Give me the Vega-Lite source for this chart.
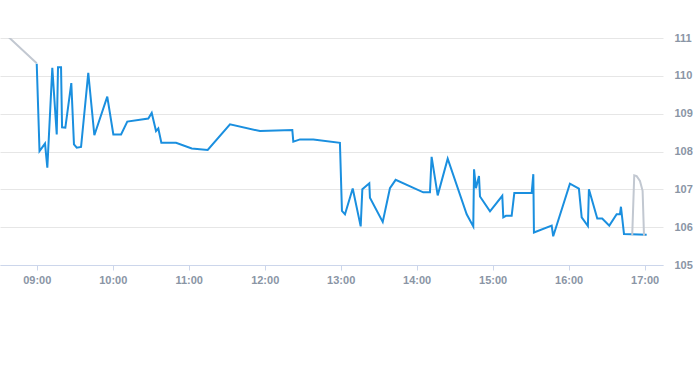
{
  "$schema": "https://vega.github.io/schema/vega-lite/v6.json",
  "autosize": {"type": "none"},
  "width": 663,
  "height": 227,
  "padding": {"top": 38, "left": 0, "right": 30, "bottom": 100},
  "config": {
    "view": {"stroke": null},
    "axis": {"labelFont": "Liberation Sans", "labelFontSize": 11, "labelColor": "#8a95a5", "labelFontWeight": "bold"}
  },
  "encoding": {
    "x": {
      "field": "time", "type": "temporal",
      "scale": {"domain": [
        {"year": 2024, "month": 1, "date": 2, "hours": 8, "minutes": 31},
        {"year": 2024, "month": 1, "date": 2, "hours": 17, "minutes": 14, "seconds": 30}
      ]},
      "axis": {
        "title": null, "format": "%H:%M", "tickCount": "hour",
        "grid": false, "domainColor": "#ccd6eb", "tickColor": "#ccd6eb", "tickSize": 5,
        "labelPadding": 4, "labelFlush": false, "labelOverlap": false
      }
    },
    "y": {
      "field": "price", "type": "quantitative",
      "scale": {"domain": [105, 111], "nice": false, "zero": false},
      "axis": {
        "title": null, "orient": "right", "values": [105, 106, 107, 108, 109, 110, 111],
        "format": "d", "grid": true, "gridColor": "#e6e6e6", "domain": false, "ticks": false,
        "labelPadding": 11, "labelOverlap": false, "labelFlush": false
      }
    }
  },
  "layer": [
    {
      "data": {"values": [
      {"time": "2024-01-02T09:00:00", "price": 110.32},
      {"time": "2024-01-02T09:02:12", "price": 108.01},
      {"time": "2024-01-02T09:06:33", "price": 108.21},
      {"time": "2024-01-02T09:08:22", "price": 107.57},
      {"time": "2024-01-02T09:12:18", "price": 110.21},
      {"time": "2024-01-02T09:15:48", "price": 108.45},
      {"time": "2024-01-02T09:16:48", "price": 110.23},
      {"time": "2024-01-02T09:19:12", "price": 110.23},
      {"time": "2024-01-02T09:20:00", "price": 108.64},
      {"time": "2024-01-02T09:22:36", "price": 108.63},
      {"time": "2024-01-02T09:27:18", "price": 109.81},
      {"time": "2024-01-02T09:29:24", "price": 108.19},
      {"time": "2024-01-02T09:31:36", "price": 108.10},
      {"time": "2024-01-02T09:35:00", "price": 108.12},
      {"time": "2024-01-02T09:40:42", "price": 110.08},
      {"time": "2024-01-02T09:45:30", "price": 108.43},
      {"time": "2024-01-02T09:55:42", "price": 109.45},
      {"time": "2024-01-02T10:00:30", "price": 108.45},
      {"time": "2024-01-02T10:06:36", "price": 108.45},
      {"time": "2024-01-02T10:11:30", "price": 108.79},
      {"time": "2024-01-02T10:28:06", "price": 108.87},
      {"time": "2024-01-02T10:30:48", "price": 109.02},
      {"time": "2024-01-02T10:34:12", "price": 108.54},
      {"time": "2024-01-02T10:36:00", "price": 108.61},
      {"time": "2024-01-02T10:38:24", "price": 108.23},
      {"time": "2024-01-02T10:50:00", "price": 108.23},
      {"time": "2024-01-02T11:02:24", "price": 108.08},
      {"time": "2024-01-02T11:15:00", "price": 108.04},
      {"time": "2024-01-02T11:32:36", "price": 108.72},
      {"time": "2024-01-02T11:56:18", "price": 108.54},
      {"time": "2024-01-02T12:21:48", "price": 108.57},
      {"time": "2024-01-02T12:22:36", "price": 108.26},
      {"time": "2024-01-02T12:27:54", "price": 108.32},
      {"time": "2024-01-02T12:38:24", "price": 108.32},
      {"time": "2024-01-02T12:59:24", "price": 108.23},
      {"time": "2024-01-02T13:01:00", "price": 106.43},
      {"time": "2024-01-02T13:03:24", "price": 106.34},
      {"time": "2024-01-02T13:09:30", "price": 107.02},
      {"time": "2024-01-02T13:15:48", "price": 106.02},
      {"time": "2024-01-02T13:17:06", "price": 107.00},
      {"time": "2024-01-02T13:22:36", "price": 107.16},
      {"time": "2024-01-02T13:23:06", "price": 106.78},
      {"time": "2024-01-02T13:33:12", "price": 106.14},
      {"time": "2024-01-02T13:38:54", "price": 107.03},
      {"time": "2024-01-02T13:43:24", "price": 107.25},
      {"time": "2024-01-02T14:05:12", "price": 106.92},
      {"time": "2024-01-02T14:10:30", "price": 106.92},
      {"time": "2024-01-02T14:11:48", "price": 107.86},
      {"time": "2024-01-02T14:16:36", "price": 106.84},
      {"time": "2024-01-02T14:24:30", "price": 107.81},
      {"time": "2024-01-02T14:39:30", "price": 106.34},
      {"time": "2024-01-02T14:44:42", "price": 106.02},
      {"time": "2024-01-02T14:45:18", "price": 107.53},
      {"time": "2024-01-02T14:46:48", "price": 107.03},
      {"time": "2024-01-02T14:49:12", "price": 107.35},
      {"time": "2024-01-02T14:50:00", "price": 106.81},
      {"time": "2024-01-02T14:57:54", "price": 106.42},
      {"time": "2024-01-02T15:07:36", "price": 106.83},
      {"time": "2024-01-02T15:08:24", "price": 106.26},
      {"time": "2024-01-02T15:10:30", "price": 106.30},
      {"time": "2024-01-02T15:15:00", "price": 106.30},
      {"time": "2024-01-02T15:17:06", "price": 106.90},
      {"time": "2024-01-02T15:30:48", "price": 106.90},
      {"time": "2024-01-02T15:32:06", "price": 107.40},
      {"time": "2024-01-02T15:32:36", "price": 105.86},
      {"time": "2024-01-02T15:46:36", "price": 106.04},
      {"time": "2024-01-02T15:47:48", "price": 105.76},
      {"time": "2024-01-02T16:01:00", "price": 107.15},
      {"time": "2024-01-02T16:08:06", "price": 107.02},
      {"time": "2024-01-02T16:10:18", "price": 106.26},
      {"time": "2024-01-02T16:15:12", "price": 106.03},
      {"time": "2024-01-02T16:16:00", "price": 107.00},
      {"time": "2024-01-02T16:22:36", "price": 106.23},
      {"time": "2024-01-02T16:26:30", "price": 106.23},
      {"time": "2024-01-02T16:32:06", "price": 106.04},
      {"time": "2024-01-02T16:37:54", "price": 106.34},
      {"time": "2024-01-02T16:40:30", "price": 106.34},
      {"time": "2024-01-02T16:41:18", "price": 106.54},
      {"time": "2024-01-02T16:43:42", "price": 105.82},
      {"time": "2024-01-02T17:01:36", "price": 105.80}
      ]},
      "mark": {"type": "line", "color": "#1a8fdf", "strokeWidth": 2, "clip": true}
    },
    {
      "data": {"values": [
      {"seg": "pre", "time": "2024-01-02T08:30:00", "price": 111.03},
      {"seg": "pre", "time": "2024-01-02T08:37:36", "price": 111.03},
      {"seg": "pre", "time": "2024-01-02T09:00:00", "price": 110.33},
      {"seg": "post", "time": "2024-01-02T16:50:12", "price": 105.79},
      {"seg": "post", "time": "2024-01-02T16:51:48", "price": 107.37},
      {"seg": "post", "time": "2024-01-02T16:53:42", "price": 107.35},
      {"seg": "post", "time": "2024-01-02T16:56:18", "price": 107.22},
      {"seg": "post", "time": "2024-01-02T16:58:24", "price": 106.96},
      {"seg": "post", "time": "2024-01-02T16:59:30", "price": 105.77}
      ]},
      "mark": {"type": "line", "color": "#c2c8d1", "strokeWidth": 2, "clip": true},
      "encoding": {"detail": {"field": "seg"}}
    }
  ]
}
